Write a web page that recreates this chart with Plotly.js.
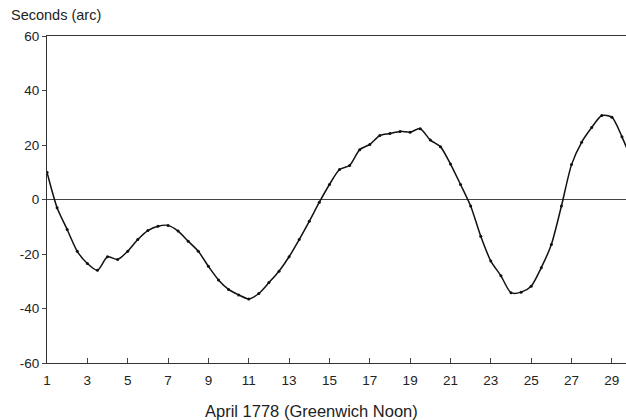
<!DOCTYPE html>
<html>
<head>
<meta charset="utf-8">
<script src="https://cdn.plot.ly/plotly-3.0.1.min.js"></script>
<style>
html,body{margin:0;padding:0;background:#fff;}
#chart{width:626px;height:420px;}
</style>
</head>
<body>
<div id="chart"></div>
<script>
// Day of April 1778 (half-day steps, Greenwich noon / midnight)
const days = [1,1.5,2,2.5,3,3.5,4,4.5,5,5.5,6,6.5,7,7.5,8,8.5,9,9.5,10,10.5,11,11.5,12,12.5,13,13.5,14,14.5,15,15.5,16,16.5,17,17.5,18,18.5,19,19.5,20,20.5,21,21.5,22,22.5,23,23.5,24,24.5,25,25.5,26,26.5,27,27.5,28,28.5,29,29.5,30];
// Seconds of arc
const seconds = [10,-3,-11,-19,-23.5,-26,-21,-22,-19,-14.7,-11.4,-9.8,-9.5,-11.6,-15.3,-19,-24.5,-29.5,-33,-35,-36.5,-34.5,-30.5,-26.3,-21,-14.7,-8,-1,5.5,11,12.5,18.3,20.2,23.5,24.2,25,24.7,26,21.8,19.4,13,5.5,-2.4,-13.5,-22.6,-28,-34.2,-34,-31.8,-25,-16.5,-2.4,12.8,21,26.4,30.8,30.2,23,14];
const xTicks = [1,3,5,7,9,11,13,15,17,19,21,23,25,27,29];
const yTicks = [-60,-40,-20,0,20,40,60];

const fontFam = '"Liberation Sans", Arial, Helvetica, sans-serif';

const trace = {
  x: days, y: seconds, type: 'scatter', mode: 'lines+markers',
  line: {color: '#111', width: 1.5, shape: 'spline', smoothing: 0.7},
  marker: {color: '#111', size: 3},
  hoverinfo: 'skip'
};

const layout = {
  width: 626, height: 420,
  margin: {l: 47, r: 0, t: 36, b: 57},
  paper_bgcolor: '#fff', plot_bgcolor: '#fff',
  showlegend: false,
  font: {family: fontFam, color: '#222', size: 13},
  xaxis: {
    range: [1, 29.7], tickvals: xTicks, ticktext: xTicks.map(String),
    ticks: 'inside', ticklen: 5, tickcolor: '#444', tickwidth: 1,
    ticklabelstandoff: 5,
    showline: true, linecolor: '#333', linewidth: 1, mirror: true,
    showgrid: false, zeroline: false,
    tickfont: {size: 13.5, color: '#222'}
  },
  yaxis: {
    range: [-60, 60], tickvals: yTicks, ticktext: yTicks.map(String),
    ticks: 'outside', ticklen: 4, tickcolor: '#444', tickwidth: 1,
    showline: true, linecolor: '#333', linewidth: 1, mirror: false,
    showgrid: false, zeroline: true, zerolinecolor: '#444', zerolinewidth: 1,
    tickfont: {size: 13.5, color: '#222'}
  },
  annotations: [
    {text: 'Seconds (arc)', xref: 'paper', yref: 'paper', x: -0.065, y: 1.033,
     xanchor: 'left', yanchor: 'bottom', showarrow: false,
     font: {size: 14.5, color: '#222', family: fontFam}},
    {text: 'April 1778 (Greenwich Noon)', xref: 'paper', yref: 'paper', x: 0.456, y: -0.112,
     xanchor: 'center', yanchor: 'top', showarrow: false,
     font: {size: 16.5, color: '#222', family: fontFam}}
  ]
};

Plotly.newPlot('chart', [trace], layout, {staticPlot: true, displayModeBar: false});
</script>
</body>
</html>
